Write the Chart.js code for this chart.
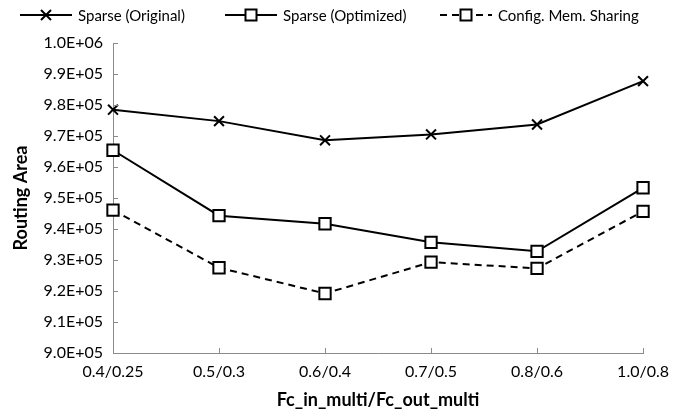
<!DOCTYPE html>
<html>
<head>
<meta charset="utf-8">
<script src="https://cdn.jsdelivr.net/npm/chart.js@4.4.1/dist/chart.umd.min.js"></script>
<style>
  html, body { margin: 0; padding: 0; background: #fff; }
  #wrap { width: 678px; height: 411px; position: relative; }
</style>
</head>
<body>
<div id="wrap"><canvas id="c" width="678" height="411"></canvas></div>
<script>
const categories = ['0.4/0.25', '0.5/0.3', '0.6/0.4', '0.7/0.5', '0.8/0.6', '1.0/0.8'];
const sparseOriginal = [978500, 974800, 968600, 970500, 973700, 987700];
const sparseOptimized = [965400, 944300, 941700, 935700, 932800, 953300];
const configMemSharing = [946100, 927500, 919200, 929300, 927300, 945700];
const yTickLabels = ['9.0E+05', '9.1E+05', '9.2E+05', '9.3E+05', '9.4E+05', '9.5E+05',
                     '9.6E+05', '9.7E+05', '9.8E+05', '9.9E+05', '1.0E+06'];
const seriesNames = ['Sparse (Original)', 'Sparse (Optimized)', 'Config. Mem. Sharing'];

const FONT = 'Lato, "Open Sans", sans-serif';
const AXIS_COLOR = '#8a8a8a';

const innerTicks = {
  id: 'innerTicks',
  afterDatasetsDraw(chart) {
    const ctx = chart.ctx;
    const x = chart.scales.x, y = chart.scales.y;
    ctx.save();
    ctx.strokeStyle = AXIS_COLOR;
    ctx.lineWidth = 1;
    ctx.beginPath();
    y.ticks.forEach((t, i) => {
      const py = Math.round(y.getPixelForTick(i)) + 0.5;
      ctx.moveTo(x.left, py); ctx.lineTo(x.left + 5, py);
    });
    x.ticks.forEach((t, i) => {
      const px = Math.round(x.getPixelForTick(i)) + 0.5;
      ctx.moveTo(px, y.bottom); ctx.lineTo(px, y.bottom - 5);
    });
    ctx.stroke();
    ctx.restore();
  }
};

const legendItemX = [20, 225, 440];
const customLegend = {
  id: 'customLegend',
  afterDraw(chart) {
    const ctx = chart.ctx;
    ctx.save();
    ctx.font = '15px ' + FONT;
    ctx.textBaseline = 'middle';
    ctx.fillStyle = '#000';
    const lineW = 52, gap = 6;
    const y = 15;
    chart.data.datasets.forEach((ds, i) => {
      const x = legendItemX[i];
      ctx.strokeStyle = '#000';
      ctx.lineWidth = 2;
      ctx.setLineDash(ds.borderDash || []);
      ctx.beginPath();
      ctx.moveTo(x, y); ctx.lineTo(x + lineW, y);
      ctx.stroke();
      ctx.setLineDash([]);
      const cx = x + lineW / 2;
      if (ds.pointStyle === 'crossRot') {
        ctx.beginPath();
        ctx.moveTo(cx - 5, y - 5); ctx.lineTo(cx + 5, y + 5);
        ctx.moveTo(cx + 5, y - 5); ctx.lineTo(cx - 5, y + 5);
        ctx.stroke();
      } else {
        ctx.fillStyle = '#fff';
        ctx.fillRect(cx - 5.5, y - 5.5, 11, 11);
        ctx.strokeRect(cx - 5.5, y - 5.5, 11, 11);
      }
      ctx.fillStyle = '#000';
      ctx.fillText(ds.label, x + lineW + gap, y + 1);
    });
    ctx.restore();
  }
};

new Chart(document.getElementById('c'), {
  type: 'line',
  data: {
    labels: categories,
    datasets: [
      { label: seriesNames[0], data: sparseOriginal, borderColor: '#000', borderWidth: 2,
        pointStyle: 'crossRot', pointRadius: 7, pointBorderWidth: 2, pointBorderColor: '#000',
        pointBackgroundColor: '#000', tension: 0 },
      { label: seriesNames[1], data: sparseOptimized, borderColor: '#000', borderWidth: 2,
        pointStyle: 'rect', pointRadius: 8, pointBorderWidth: 2, pointBorderColor: '#000',
        pointBackgroundColor: '#fff', tension: 0 },
      { label: seriesNames[2], data: configMemSharing, borderColor: '#000', borderWidth: 2,
        borderDash: [7, 5],
        pointStyle: 'rect', pointRadius: 8, pointBorderWidth: 2, pointBorderColor: '#000',
        pointBackgroundColor: '#fff', tension: 0 }
    ]
  },
  options: {
    responsive: false,
    animation: false,
    devicePixelRatio: 1,
    layout: { padding: { top: 43, right: 30, left: 0, bottom: 0 } },
    plugins: { legend: { display: false }, tooltip: { enabled: false } },
    scales: {
      x: {
        type: 'category',
        offset: false,
        grid: { display: true, drawOnChartArea: false, drawTicks: false },
        border: { display: true, color: AXIS_COLOR, width: 1 },
        ticks: { color: '#000', font: { family: FONT, size: 16 }, padding: 9, maxRotation: 0, autoSkip: false },
        title: { display: true, text: 'Fc_in_multi/Fc_out_multi', color: '#000',
                 font: { family: FONT, size: 18, weight: 'bold' }, padding: { top: 2, bottom: 0 } },
        afterFit(s) { s.height = 58; }
      },
      y: {
        min: 900000, max: 1000000,
        grid: { display: true, drawOnChartArea: false, drawTicks: false },
        border: { display: true, color: AXIS_COLOR, width: 1 },
        ticks: { stepSize: 10000, color: '#000', font: { family: FONT, size: 16 }, padding: 10,
                 callback: (v, i) => yTickLabels[i] },
        title: { display: true, text: 'Routing Area', color: '#000',
                 font: { family: FONT, size: 18, weight: 'bold' }, padding: { top: 10, bottom: 0 } },
        afterFit(s) { s.width = 113; }
      }
    }
  },
  plugins: [innerTicks, customLegend]
});
</script>
</body>
</html>
